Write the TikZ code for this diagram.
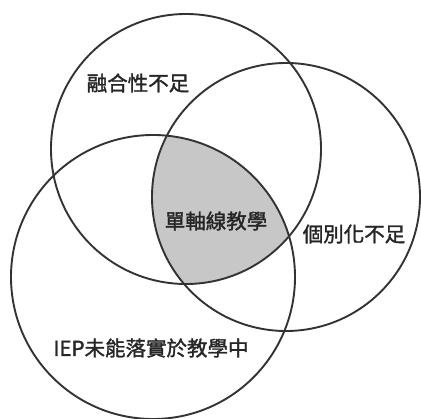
\documentclass[tikz,border=0pt]{standalone}
\usepackage{fontspec}
\newfontfamily\cjk[FakeBold=1.6]{Noto Sans CJK TC}
\begin{document}
\begin{tikzpicture}[x=1pt,y=-1pt,
  ring/.style={draw=black!80,line width=1.9pt},
  lab/.style={font=\cjk\fontsize{20.5}{22}\selectfont,text=black!85,inner sep=0pt}]
\useasboundingbox[fill=white] (0,0) rectangle (421,419);
\coordinate (cA) at (186,149);
\coordinate (cB) at (286,197);
\coordinate (cC) at (153,277);
\begin{scope}
  \clip (cA) circle[radius=135];
  \clip (cB) circle[radius=134];
  \fill[black!22] (cC) circle[radius=142];
\end{scope}
\draw[ring] (cA) circle[radius=135];
\draw[ring] (cB) circle[radius=134];
\draw[ring] (cC) circle[radius=142];
\node[lab] (t1) at (138,83) {融合性不足};
\node[lab] (t2) at (216,221) {單軸線教學};
\node[lab] (t3) at (354,234) {個別化不足};
\node[lab] (t4) at (151,348) {IEP未能落實於教學中};
\end{tikzpicture}
\end{document}
